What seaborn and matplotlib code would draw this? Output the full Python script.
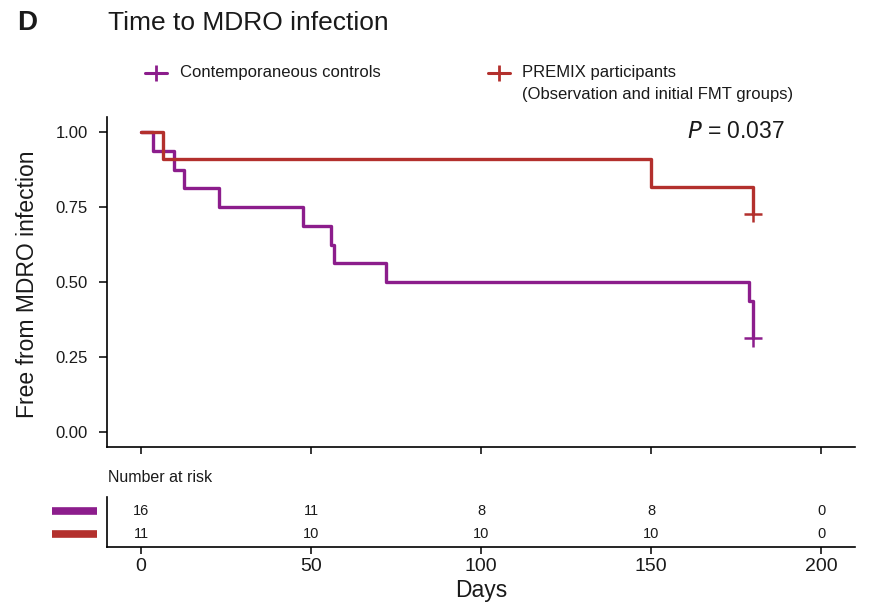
import matplotlib
matplotlib.use("Agg")
import matplotlib.pyplot as plt
from matplotlib.lines import Line2D
import seaborn as sns
import pandas as pd
import numpy as np

sns.set_theme(style="white")
plt.rcParams['font.family'] = ['Liberation Sans', 'DejaVu Sans']

# ---- data ----
groups = ["Contemporaneous controls", "PREMIX participants"]
legend_labels = ["Contemporaneous controls",
                 "PREMIX participants\n(Observation and initial FMT groups)"]
colors = ["#8C1D8C", "#B3302D"]

ctrl_days = [0, 3.6, 9.7, 12.6, 23, 47.7, 55.9, 56.9, 72, 178.8, 180]
ctrl_surv = [1.0, 0.9375, 0.875, 0.8125, 0.75, 0.6875, 0.625, 0.5625, 0.5, 0.4375, 0.3125]
premix_days = [0, 6.6, 150, 180]
premix_surv = [1.0, 0.9091, 0.8182, 0.7273]

censor_days = [180, 180]
censor_surv = [0.3125, 0.7273]

risk_days = [0, 50, 100, 150, 200]
ctrl_risk = [16, 11, 8, 8, 0]
premix_risk = [11, 10, 10, 10, 0]

y_ticks = [0.00, 0.25, 0.50, 0.75, 1.00]
x_ticks = [0, 50, 100, 150, 200]
p_text = "0.037"

df = pd.concat([
    pd.DataFrame({"day": ctrl_days, "surv": ctrl_surv, "group": groups[0]}),
    pd.DataFrame({"day": premix_days, "surv": premix_surv, "group": groups[1]}),
])
cens = pd.DataFrame({"day": censor_days, "surv": censor_surv, "group": groups})

W, H = 871, 612
fig = plt.figure(figsize=(W / 100, H / 100), dpi=100)

def fx(px):
    return px / W

def fy(py):
    return 1 - py / H

TXT = "#1a1a1a"

ax = fig.add_axes([fx(107), fy(447), fx(855) - fx(107), fy(117) - fy(447)])
sns.lineplot(data=df, x="day", y="surv", hue="group", palette=colors,
             drawstyle="steps-post", estimator=None, sort=False,
             linewidth=2.4, legend=False, ax=ax)
sns.scatterplot(data=cens, x="day", y="surv", hue="group", palette=colors,
                marker="+", s=150, linewidth=1.8, legend=False, ax=ax, zorder=5)

ax.set_xlim(-10, 210)
ax.set_ylim(-0.05, 1.05)
ax.set_xticks(x_ticks)
ax.set_xticklabels([])
ax.set_yticks(y_ticks)
ax.set_yticklabels([f"{v:.2f}" for v in y_ticks], fontsize=12, color=TXT)
ax.set_xlabel("")
ax.set_ylabel("")
for s in ["top", "right"]:
    ax.spines[s].set_visible(False)
for s in ["left", "bottom"]:
    ax.spines[s].set_color("black")
    ax.spines[s].set_linewidth(1.2)
ax.tick_params(axis="x", direction="out", length=5, width=1.1, color="black", bottom=True)
ax.tick_params(axis="y", direction="out", length=6, width=1.1, color="black", left=True, pad=8)

fig.text(fx(28), fy(284), "Free from MDRO infection", rotation=90, fontsize=16.5,
         ha="center", va="center", color=TXT)
fig.text(fx(785), fy(132), "$P$ = " + p_text, fontsize=16.5,
         ha="right", va="center", color=TXT)

# ---- risk table ----
rax = fig.add_axes([fx(107), fy(547), fx(855) - fx(107), fy(497) - fy(547)])
rax.set_xlim(-10, 210)
rax.set_ylim(0.44, 2.59)
for i in range(len(risk_days)):
    rax.text(risk_days[i], 2, str(ctrl_risk[i]), ha="center", va="center",
             fontsize=10.5, color=TXT)
    rax.text(risk_days[i], 1, str(premix_risk[i]), ha="center", va="center",
             fontsize=10.5, color=TXT)
rax.set_xticks(x_ticks)
rax.set_xticklabels([str(v) for v in x_ticks], fontsize=14, color=TXT)
rax.set_yticks([])
rax.set_xlabel("")
for s in ["top", "right"]:
    rax.spines[s].set_visible(False)
for s in ["left", "bottom"]:
    rax.spines[s].set_color("black")
    rax.spines[s].set_linewidth(1.2)
rax.tick_params(axis="x", direction="out", length=5, width=1.1, color="black",
                bottom=True, pad=3)
fig.text(fx(481), fy(590), "Days", fontsize=16.5, ha="center", va="center", color=TXT)

fig.text(fx(108), fy(477), "Number at risk", fontsize=11.5, ha="left", va="center",
         color=TXT)
for yy, c in [(510.5, colors[0]), (534, colors[1])]:
    fig.add_artist(Line2D([fx(52), fx(97)], [fy(yy), fy(yy)], color=c, linewidth=5.5,
                          solid_capstyle="butt"))

# ---- title / panel letter ----
fig.text(fx(17), fy(23), "D", fontsize=20, fontweight="bold", ha="left", va="center",
         color=TXT)
fig.text(fx(108), fy(23), "Time to MDRO infection", fontsize=19, ha="left", va="center",
         color=TXT)

# ---- legend ----
for x0, yy, c in [(145, 73, colors[0]), (488, 73, colors[1])]:
    fig.add_artist(Line2D([fx(x0), fx(x0 + 22)], [fy(yy), fy(yy)], color=c, linewidth=2.2))
    fig.add_artist(Line2D([fx(x0 + 11)], [fy(yy)], color=c, marker="+", markersize=11,
                          markeredgewidth=2.0, linestyle="none"))
fig.text(fx(180), fy(73), legend_labels[0], fontsize=12, ha="left", va="center", color=TXT)
fig.text(fx(522), fy(73), legend_labels[1].split("\n")[0], fontsize=12, ha="left",
         va="center", color=TXT)
fig.text(fx(522), fy(95), legend_labels[1].split("\n")[1], fontsize=12, ha="left",
         va="center", color=TXT)

fig.savefig("out.png", dpi=100, facecolor="white")
